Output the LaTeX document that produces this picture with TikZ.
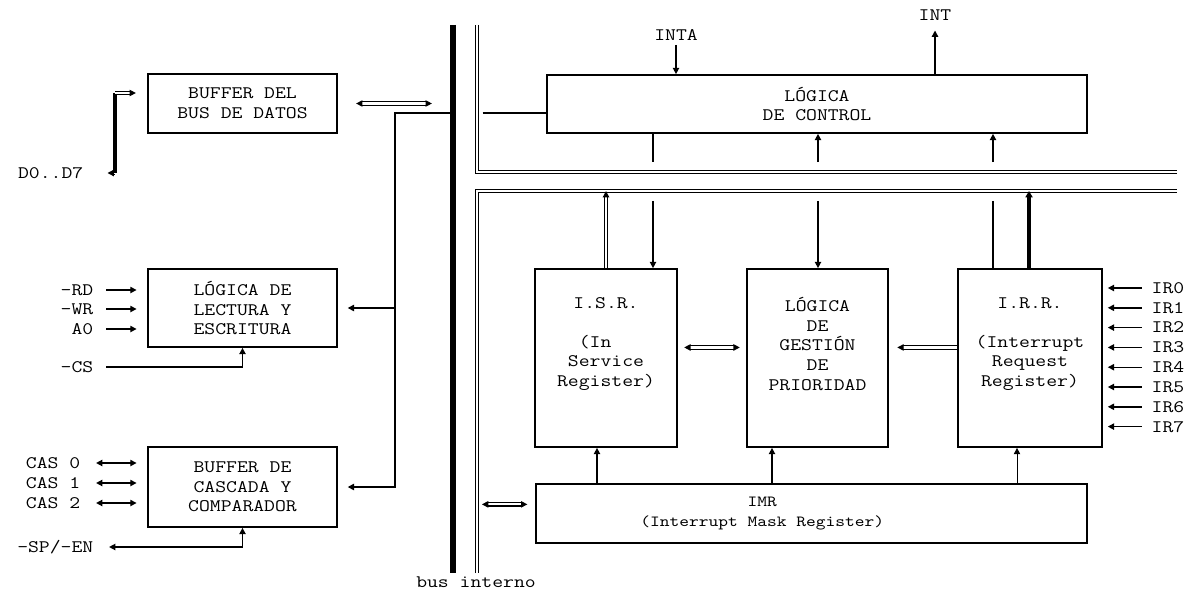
\documentclass[tikz,border=0pt]{standalone}
\usepackage{fontspec}
\setmonofont{Latin Modern Mono}[FakeStretch=1.2]
\usetikzlibrary{arrows.meta}
\newcommand{\diagfont}{\ttfamily\fontsize{12.5}{13.9}\selectfont}
\tikzset{
  >={Triangle[length=4.5pt,width=4.5pt]},
  blk/.style={draw, line width=1.2pt, inner sep=0pt, align=center, font=\diagfont},
  txt/.style={inner sep=1pt, align=center, font=\diagfont},
  wire/.style={line width=1pt},
  thinwire/.style={line width=0.7pt},
  heavy/.style={line width=2.4pt},
  sig/.style={wire, ->},
  dsig/.style={wire, <->},
  dbl/.style={double, double distance=1.5pt, line width=0.9pt}
}

\begin{document}
\begin{tikzpicture}[x=0.025cm, y=-0.025cm]
    \useasboundingbox (0,0) rectangle (1194,591);
    \node[blk, minimum width=4.725cm, minimum height=1.475cm] (buf) at (242.5,103.5) {BUFFER DEL\\BUS DE DATOS};
    \node[blk, minimum width=4.725cm, minimum height=1.95cm] (lect) at (242.5,308) {LÓGICA DE\\LECTURA Y\\ESCRITURA};
    \node[blk, minimum width=4.725cm, minimum height=2cm] (casc) at (242.5,487) {BUFFER DE\\CASCADA Y\\COMPARADOR};
    \node[blk, minimum width=13.5cm, minimum height=1.45cm] (ctrl) at (817,104) {LÓGICA\\DE CONTROL};
    \node[blk, minimum width=3.55cm, minimum height=4.45cm] (isr) at (606,358) {};
    \node[blk, minimum width=3.525cm, minimum height=4.45cm] (prio) at (817.5,358) {};
    \node[blk, minimum width=3.6cm, minimum height=4.45cm] (irr) at (1030,358) {};
    \node[blk, minimum width=13.775cm, minimum height=1.475cm] (imr) at (811.5,513.5) {};
    \node[txt] (isrtxt) at ([yshift=10pt]isr.center) {I.S.R.\\[13.9pt](In\phantom{xx}\\Service\\Register)};
    \node[txt] (priotxt) at ([yshift=10pt]prio.center) {LÓGICA\\DE\\GESTIÓN\\DE\\PRIORIDAD};
    \node[txt] (irrtxt) at ([yshift=10pt]irr.center) {I.R.R.\\[13.9pt](Interrupt\\Request\\Register)};
    \node[txt, font=\ttfamily\fontsize{11}{13.9}\selectfont] (imrtxt) at ([xshift=-35pt]imr.center) {IMR\\(Interrupt Mask Register)};

    \coordinate (bt) at (453,25);
    \coordinate (bb) at (453,573);
    \coordinate (ut) at (477,25);
    \coordinate (uc) at (477,172);
    \coordinate (ue) at (1177,172);
    \coordinate (lb) at (477,573);
    \coordinate (lc) at (477,191);
    \coordinate (le) at (1177,191);
    \coordinate (ua) at ([yshift=7pt]uc);
    \coordinate (la) at ([yshift=-7pt]lc);
    \coordinate (jn) at (395,113);
    \coordinate (c1) at (606,0);
    \coordinate (c2) at (653,0);
    \coordinate (c3) at (818,0);
    \coordinate (c4) at (993,0);
    \coordinate (c5) at (1029,0);
    \coordinate (m1) at (597,0);
    \coordinate (m2) at (772,0);
    \coordinate (m3) at (1017,0);

    \draw[line width=3.6pt] (bt) -- (bb);
    \draw[dbl] (ut) -- (uc) -- (ue);
    \draw[dbl] (lb) -- (lc) -- (le);
    \node[txt, anchor=base] (busl) at (476,587) {bus interno};

    \node[txt, anchor=east] (d07) at (85,173) {D0..D7};
    \coordinate (dk) at (115,173);
    \coordinate (dt) at (115,93);
    \draw[dbl, <-, shorten <=16pt] (d07.east) -- (dk);
    \draw[heavy] (dk) -- (dt);
    \draw[dbl, ->, shorten >=8pt] (dt) -- (dt -| buf.west);
    \draw[dbl, <->, shorten <=13pt, shorten >=15pt] (buf.east) -- (buf.east -| bt);

    \draw[wire, ->, shorten >=7pt] (jn -| bt) -- (jn) |- (casc.east);
    \draw[wire, ->, shorten >=7pt] (jn |- lect.east) -- (lect.east);
    \draw[wire] ([xshift=4pt]jn -| ut) -- (jn -| ctrl.west);

    \node[txt, anchor=east] (rd) at (95,290) {-RD};
    \node[txt, anchor=east] (wr) at (95,309) {-WR};
    \node[txt, anchor=east] (a0) at (95,329) {A0};
    \node[txt, anchor=east] (cs) at (95,367) {-CS};
    \draw[sig, shorten <=8pt, shorten >=7.5pt] (rd.east) -- (rd.east -| lect.west);
    \draw[sig, shorten <=8pt, shorten >=7.5pt] (wr.east) -- (wr.east -| lect.west);
    \draw[sig, shorten <=8pt, shorten >=7.5pt] (a0.east) -- (a0.east -| lect.west);
    \draw[sig, shorten <=8pt] (cs.east) -| (lect.south);

    \node[txt, anchor=east] (cas0) at (82,463) {CAS 0};
    \node[txt, anchor=east] (cas1) at (82,483) {CAS 1};
    \node[txt, anchor=east] (cas2) at (82,503) {CAS 2};
    \node[txt, anchor=east] (spen) at (95,547) {-SP/-EN};
    \draw[dsig, shorten <=10pt, shorten >=7.5pt] (cas0.east) -- (cas0.east -| casc.west);
    \draw[dsig, shorten <=10pt, shorten >=7.5pt] (cas1.east) -- (cas1.east -| casc.west);
    \draw[dsig, shorten <=10pt, shorten >=7.5pt] (cas2.east) -- (cas2.east -| casc.west);
    \draw[dsig, shorten >=10pt] (casc.south) |- (spen.east);

    \node[txt] (inta) at (676,35) {INTA};
    \node[txt] (int) at (935,15) {INT};
    \draw[sig, shorten <=2pt] (inta.south) -- (inta.south |- ctrl.north);
    \draw[sig, shorten >=6pt] (int.south |- ctrl.north) -- (int.south);

    \draw[wire] (ctrl.south -| c2) -- (ua -| c2);
    \draw[sig] (la -| c2) -- (isr.north -| c2);
    \draw[sig] (ua -| c3) -- (ctrl.south -| c3);
    \draw[sig] (la -| c3) -- (prio.north -| c3);
    \draw[sig] (ua -| c4) -- (ctrl.south -| c4);
    \draw[wire] (la -| c4) -- (irr.north -| c4);
    \draw[dbl, ->] (isr.north -| c1) -- (lc -| c1);
    \draw[heavy, -{Triangle[length=4.5pt,width=5pt]}] (irr.north -| c5) -- (lc -| c5);

    \draw[dbl, <->, shorten <=4.5pt, shorten >=4.5pt] ([yshift=7.5pt]isr.east) -- ([yshift=7.5pt]prio.west);
    \draw[dbl, ->, shorten >=6pt] ([yshift=7.5pt]irr.west) -- ([yshift=7.5pt]prio.east);

    \node[txt, anchor=west] (ir0) at (1150,288) {IR0};
    \node[txt, anchor=west] (ir1) at (1150,307.8) {IR1};
    \node[txt, anchor=west] (ir2) at (1150,327.6) {IR2};
    \node[txt, anchor=west] (ir3) at (1150,347.4) {IR3};
    \node[txt, anchor=west] (ir4) at (1150,367.2) {IR4};
    \node[txt, anchor=west] (ir5) at (1150,387) {IR5};
    \node[txt, anchor=west] (ir6) at (1150,406.8) {IR6};
    \node[txt, anchor=west] (ir7) at (1150,426.6) {IR7};
    \draw[sig, shorten <=6pt, shorten >=3.5pt] (ir0.west) -- (ir0.west -| irr.east);
    \draw[sig, shorten <=6pt, shorten >=3.5pt] (ir1.west) -- (ir1.west -| irr.east);
    \draw[sig, shorten <=6pt, shorten >=3.5pt] (ir2.west) -- (ir2.west -| irr.east);
    \draw[sig, shorten <=6pt, shorten >=3.5pt] (ir3.west) -- (ir3.west -| irr.east);
    \draw[sig, shorten <=6pt, shorten >=3.5pt] (ir4.west) -- (ir4.west -| irr.east);
    \draw[sig, shorten <=6pt, shorten >=3.5pt] (ir5.west) -- (ir5.west -| irr.east);
    \draw[sig, shorten <=6pt, shorten >=3.5pt] (ir6.west) -- (ir6.west -| irr.east);
    \draw[sig, shorten <=6pt, shorten >=3.5pt] (ir7.west) -- (ir7.west -| irr.east);

    \draw[wire, ->] (imr.north -| m1) -- (isr.south -| m1);
    \draw[wire, ->] (imr.north -| m2) -- (prio.south -| m2);
    \draw[thinwire, ->] (imr.north -| m3) -- (irr.south -| m3);
    \coordinate (mw) at ([yshift=6.5pt]imr.west);
    \draw[dbl, <->, shorten <=3.5pt, shorten >=5.5pt] (mw -| lb) -- (mw);
\end{tikzpicture}
\end{document}
